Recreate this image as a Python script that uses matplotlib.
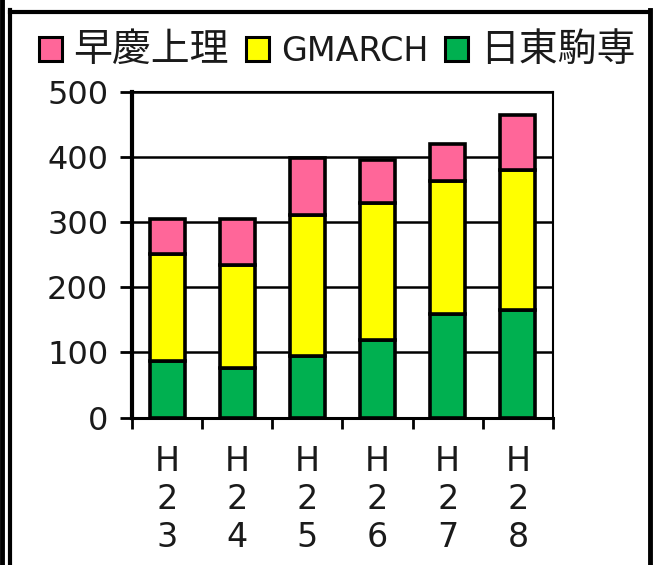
import matplotlib
matplotlib.use("Agg")
import matplotlib.pyplot as plt
from matplotlib.lines import Line2D
import numpy as np

plt.rcParams['font.family'] = ['DejaVu Sans', 'Noto Sans CJK JP']

years = ['H\n2\n3', 'H\n2\n4', 'H\n2\n5', 'H\n2\n6', 'H\n2\n7', 'H\n2\n8']
nittoukomasen = [87, 76, 95, 119, 159, 165]
gmarch = [165, 159, 216, 211, 204, 215]
soukei = [53, 70, 88, 65, 58, 85]

names = ['早慶上理', 'GMARCH', '日東駒専']
colors = ['#FF6699', '#FFFF00', '#00B050']

fig = plt.figure(figsize=(6.53, 5.65), dpi=100)
ax = fig.add_axes([0.2021, 0.261, 0.6447, 0.576])

x = np.arange(len(years))
g = np.array(nittoukomasen)
ym = np.array(gmarch)
p = np.array(soukei)

b3 = ax.bar(x, g, 0.5, color=colors[2], edgecolor='black', linewidth=2.6, zorder=3)
b2 = ax.bar(x, ym, 0.5, bottom=g, color=colors[1], edgecolor='black', linewidth=2.6, zorder=3)
b1 = ax.bar(x, p, 0.5, bottom=g + ym, color=colors[0], edgecolor='black', linewidth=2.6, zorder=3)

ax.set_xlim(-0.5, len(years) - 0.5)
ax.set_ylim(0, 500)
ax.set_yticks(np.arange(0, 501, 100))
ax.yaxis.grid(True, color='black', linewidth=1.8, zorder=0)
ax.set_axisbelow(True)

ax.set_xticks(x)
ax.set_xticklabels(years, fontsize=24, linespacing=1.18, color='#1a1a1a')
ax.set_xticks(np.arange(-0.5, len(years)), minor=True)
ax.tick_params(axis='x', which='major', length=0, pad=20)
ax.tick_params(axis='x', which='minor', length=8, width=2, direction='out')
ax.tick_params(axis='y', labelsize=23, labelcolor='#1a1a1a', length=9, width=2, direction='out', pad=8)

for s in ['top', 'right']:
    ax.spines[s].set_linewidth(1.5)
ax.spines['left'].set_linewidth(3)
ax.spines['bottom'].set_linewidth(2.2)

leg = fig.legend([b1, b2, b3], names, loc='center', bbox_to_anchor=(0.516, 0.912),
                 ncol=3, frameon=False, fontsize=24, handlelength=0.7, handleheight=0.7,
                 handletextpad=0.35, columnspacing=0.5, borderaxespad=0)
for t in leg.get_texts():
    t.set_color('#1a1a1a')
    if t.get_text() != 'GMARCH':
        t.set_fontsize(28)
for h in leg.legend_handles:
    h.set_linewidth(2.2)

# outer frame
H = 565.0
W = 653.0
fig.add_artist(Line2D([2/W, 2/W], [0, 1], color='black', linewidth=3.5, transform=fig.transFigure))
fig.add_artist(Line2D([10/W, 10/W], [0, 1 - 10/H], color='black', linewidth=3, transform=fig.transFigure))
fig.add_artist(Line2D([10/W, 650/W], [1 - 11.5/H, 1 - 11.5/H], color='black', linewidth=3, transform=fig.transFigure))
fig.add_artist(Line2D([650/W, 650/W], [0, 1 - 10/H], color='black', linewidth=3.5, transform=fig.transFigure))

fig.savefig('out.png', dpi=100)
